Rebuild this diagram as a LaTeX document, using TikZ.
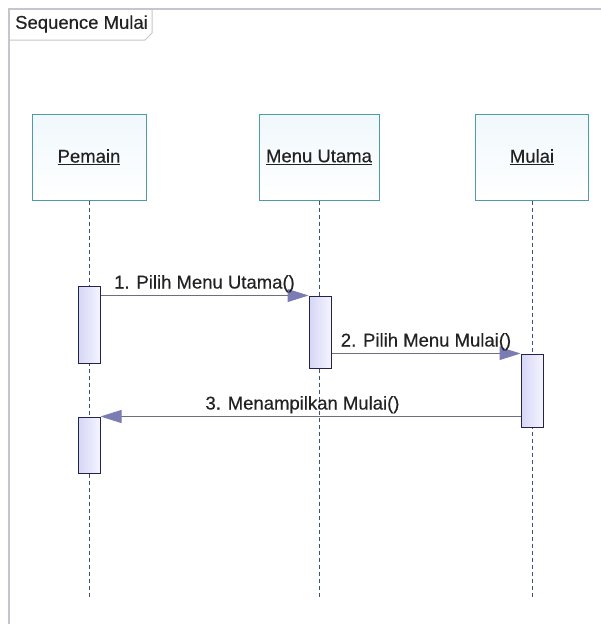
\documentclass[tikz,border=0pt]{standalone}
\usepackage{fontspec}
\setmainfont{Liberation Sans}
\newfontfamily\diagfont[FakeBold=0.35]{Liberation Sans}
\usetikzlibrary{arrows.meta,calc}
\definecolor{framegray}{HTML}{C4C6CE}
\definecolor{headborder}{HTML}{4E9AAA}
\definecolor{headfill}{HTML}{F0F8FC}
\definecolor{lifeblue}{HTML}{3A5674}
\definecolor{actborder}{HTML}{22224A}
\definecolor{actleft}{HTML}{D6D6F6}
\definecolor{actright}{HTML}{F4F4FF}
\definecolor{msgline}{HTML}{6E6E80}
\definecolor{msghead}{HTML}{7C7CB4}
\definecolor{textgray}{HTML}{222222}
\tikzset{
  diagtext/.style={font=\diagfont\fontsize{18.5}{21}\selectfont, text=textgray},
  head/.style={draw=headborder, line width=1pt, top color=headfill, bottom color=white,
    minimum height=86pt, inner sep=0pt, diagtext},
  lifeline/.style={draw=lifeblue, line width=1pt, dash pattern=on 4pt off 3pt},
  activation/.style={draw=actborder, line width=1pt, left color=actleft, right color=actright,
    minimum width=22pt, inner sep=0pt},
  msg/.style={draw=msgline, line width=1pt,
    -{Triangle[length=21pt,width=13pt,fill=msghead,color=msghead]}},
  msglabel/.style={diagtext, inner sep=0pt, anchor=base},
}
\begin{document}
\begin{tikzpicture}[x=1pt,y=-1pt]
\useasboundingbox[fill=white] (0,0) rectangle (601,624);

% diagram frame and title tab
\draw[framegray, line width=1.2pt] (9,624) -- (9,9) -- (601,9);
\draw[framegray, line width=1pt] (9,9) -- (152,9) -- (152,33) -- (145,40) -- (9,40);
\node[anchor=west, inner sep=0pt, diagtext] (title) at (15,24) {Sequence Mulai};

% lifeline heads
\node[head, minimum width=114pt] (pemain) at (89,157) {\underline{Pemain}};
\node[head, minimum width=120pt] (menu) at (319,157) {\underline{Menu Utama}};
\node[head, minimum width=113pt] (mulai) at (532,157) {\underline{Mulai}};

% lifeline ends
\coordinate (pemainEnd) at (89,597);
\coordinate (menuEnd) at (319,597);
\coordinate (mulaiEnd) at (532,597);
\draw[lifeline] (pemain.south) -- (pemainEnd);
\draw[lifeline] (menu.south) -- (menuEnd);
\draw[lifeline] (mulai.south) -- (mulaiEnd);

% activations
\node[activation, minimum height=77pt] (actP1) at (89,324.5) {};
\node[activation, minimum height=72pt] (actM) at (320,332) {};
\node[activation, minimum height=73pt] (actL) at (532,390.5) {};
\node[activation, minimum height=56pt] (actP2) at (89,445) {};

% messages
\draw[msg] (actP1.east |- actM.north) -- (actM.north west);
\node[msglabel] (lbl1) at ($(actP1.east |- actM.north)!0.5!(actM.north west) + (0,-7)$) {1. Pilih Menu Utama()};

\draw[msg] (actM.east |- actL.north) -- (actL.north west);
\node[msglabel] (lbl2) at ($(actM.east |- actL.north)!0.5!(actL.north west) + (0,-7)$) {2. Pilih Menu Mulai()};

\draw[msg] (actL.west |- actP2.north) -- (actP2.north east);
\node[msglabel] (lbl3) at ($(actL.west |- actP2.north)!0.5!(actP2.north east) + (-8,-7)$) {3. Menampilkan Mulai()};
\end{tikzpicture}
\end{document}
